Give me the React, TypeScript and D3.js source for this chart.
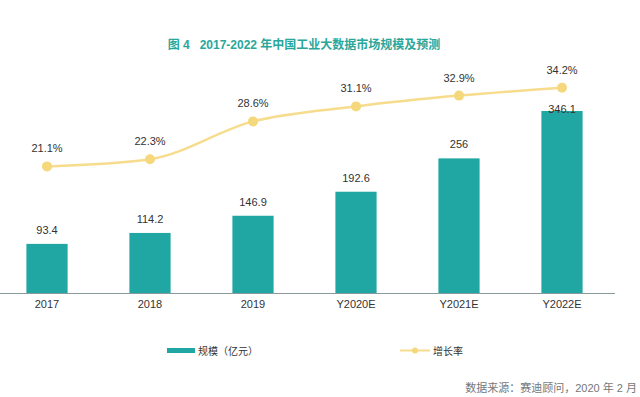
import React, { useEffect, useRef } from 'react';
import * as d3 from 'd3';

const years = ['2017', '2018', '2019', 'Y2020E', 'Y2021E', 'Y2022E'];
const scale = [93.4, 114.2, 146.9, 192.6, 256, 346.1];
const scaleLabels = ['93.4', '114.2', '146.9', '192.6', '256', '346.1'];
const growth = [21.1, 22.3, 28.6, 31.1, 32.9, 34.2];

const W = 640;
const H = 397;

const App: React.FC = () => {
  const svgRef = useRef<SVGSVGElement>(null);

  useEffect(() => {
    if (!svgRef.current) return;
    const svg = d3.select(svgRef.current);
    svg.selectAll('*').remove();

    const font = '"Liberation Sans", "Noto Sans CJK SC", sans-serif';
    const teal = '#20a6a3';
    const yellow = '#f6dc8c';
    const base = 293;

    svg.append('rect').attr('width', W).attr('height', H).attr('fill', '#ffffff');

    // title
    svg
      .append('text')
      .attr('x', 304)
      .attr('y', 49)
      .attr('text-anchor', 'middle')
      .attr('font-family', font)
      .attr('font-size', 12)
      .attr('font-weight', 'bold')
      .attr('fill', '#29a79b')
      .style('white-space', 'pre')
      .text('图 4   2017-2022 年中国工业大数据市场规模及预测');

    const x = d3
      .scaleBand<string>()
      .domain(years)
      .range([-4.5, 613.5])
      .paddingInner(0.6)
      .paddingOuter(0.3);

    const yBar = d3.scaleLinear().domain([0, 346.1]).range([base, 111]);
    const yRate = d3.scaleLinear().domain([0, 40]).range([base, base - 240]);

    // bars
    svg
      .append('g')
      .selectAll('rect')
      .data(scale)
      .enter()
      .append('rect')
      .attr('x', (_d, i) => x(years[i])!)
      .attr('y', (d) => yBar(d))
      .attr('width', x.bandwidth())
      .attr('height', (d) => base - yBar(d))
      .attr('fill', teal);

    // axis line
    svg
      .append('line')
      .attr('x1', 0)
      .attr('x2', 615)
      .attr('y1', base + 0.5)
      .attr('y2', base + 0.5)
      .attr('stroke', '#8a9a9a')
      .attr('stroke-width', 1);

    // x labels
    svg
      .append('g')
      .selectAll('text')
      .data(years)
      .enter()
      .append('text')
      .attr('x', (d) => x(d)! + x.bandwidth() / 2)
      .attr('y', 308)
      .attr('text-anchor', 'middle')
      .attr('font-family', font)
      .attr('font-size', 11)
      .attr('fill', '#333')
      .text((d) => d);

    // bar value labels (pushed down when they would hit the line)
    svg
      .append('g')
      .selectAll('text')
      .data(scale)
      .enter()
      .append('text')
      .attr('x', (_d, i) => x(years[i])! + x.bandwidth() / 2)
      .attr('y', (d, i) => Math.max(yBar(d) - 10, yRate(growth[i]) + 25))
      .attr('text-anchor', 'middle')
      .attr('font-family', font)
      .attr('font-size', 11)
      .attr('fill', '#333')
      .text((_d, i) => scaleLabels[i]);

    // growth line
    const line = d3
      .line<number>()
      .x((_d, i) => x(years[i])! + x.bandwidth() / 2)
      .y((d) => yRate(d))
      .curve(d3.curveMonotoneX);

    svg
      .append('path')
      .datum(growth)
      .attr('d', line)
      .attr('fill', 'none')
      .attr('stroke', yellow)
      .attr('stroke-width', 2.5);

    svg
      .append('g')
      .selectAll('circle')
      .data(growth)
      .enter()
      .append('circle')
      .attr('cx', (_d, i) => x(years[i])! + x.bandwidth() / 2)
      .attr('cy', (d) => yRate(d))
      .attr('r', 5)
      .attr('fill', '#f5d77c');

    svg
      .append('g')
      .selectAll('text')
      .data(growth)
      .enter()
      .append('text')
      .attr('x', (_d, i) => x(years[i])! + x.bandwidth() / 2)
      .attr('y', (d) => yRate(d) - 14)
      .attr('text-anchor', 'middle')
      .attr('font-family', font)
      .attr('font-size', 11)
      .attr('fill', '#333')
      .text((d) => `${d.toFixed(1)}%`);

    // legend
    const legend = svg.append('g').attr('font-family', font).attr('font-size', 10).attr('fill', '#333');
    legend
      .append('rect')
      .attr('x', 167)
      .attr('y', 348)
      .attr('width', 28)
      .attr('height', 5)
      .attr('fill', teal);
    legend.append('text').attr('x', 198).attr('y', 354.5).text('规模（亿元）');
    legend
      .append('line')
      .attr('x1', 400)
      .attr('x2', 430)
      .attr('y1', 350.5)
      .attr('y2', 350.5)
      .attr('stroke', yellow)
      .attr('stroke-width', 2);
    legend.append('circle').attr('cx', 415).attr('cy', 350.5).attr('r', 3).attr('fill', '#f5d77c');
    legend.append('text').attr('x', 433).attr('y', 354.5).text('增长率');

    // source
    svg
      .append('text')
      .attr('x', 637)
      .attr('y', 392)
      .attr('text-anchor', 'end')
      .attr('font-family', font)
      .attr('font-size', 11)
      .attr('fill', '#777')
      .text('数据来源：赛迪顾问，2020 年 2 月');
  }, []);

  return (
    <div style={{ position: 'fixed', left: 0, top: 0 }}>
      <svg ref={svgRef} width={W} height={H} style={{ display: 'block' }} />
    </div>
  );
};

export default App;
